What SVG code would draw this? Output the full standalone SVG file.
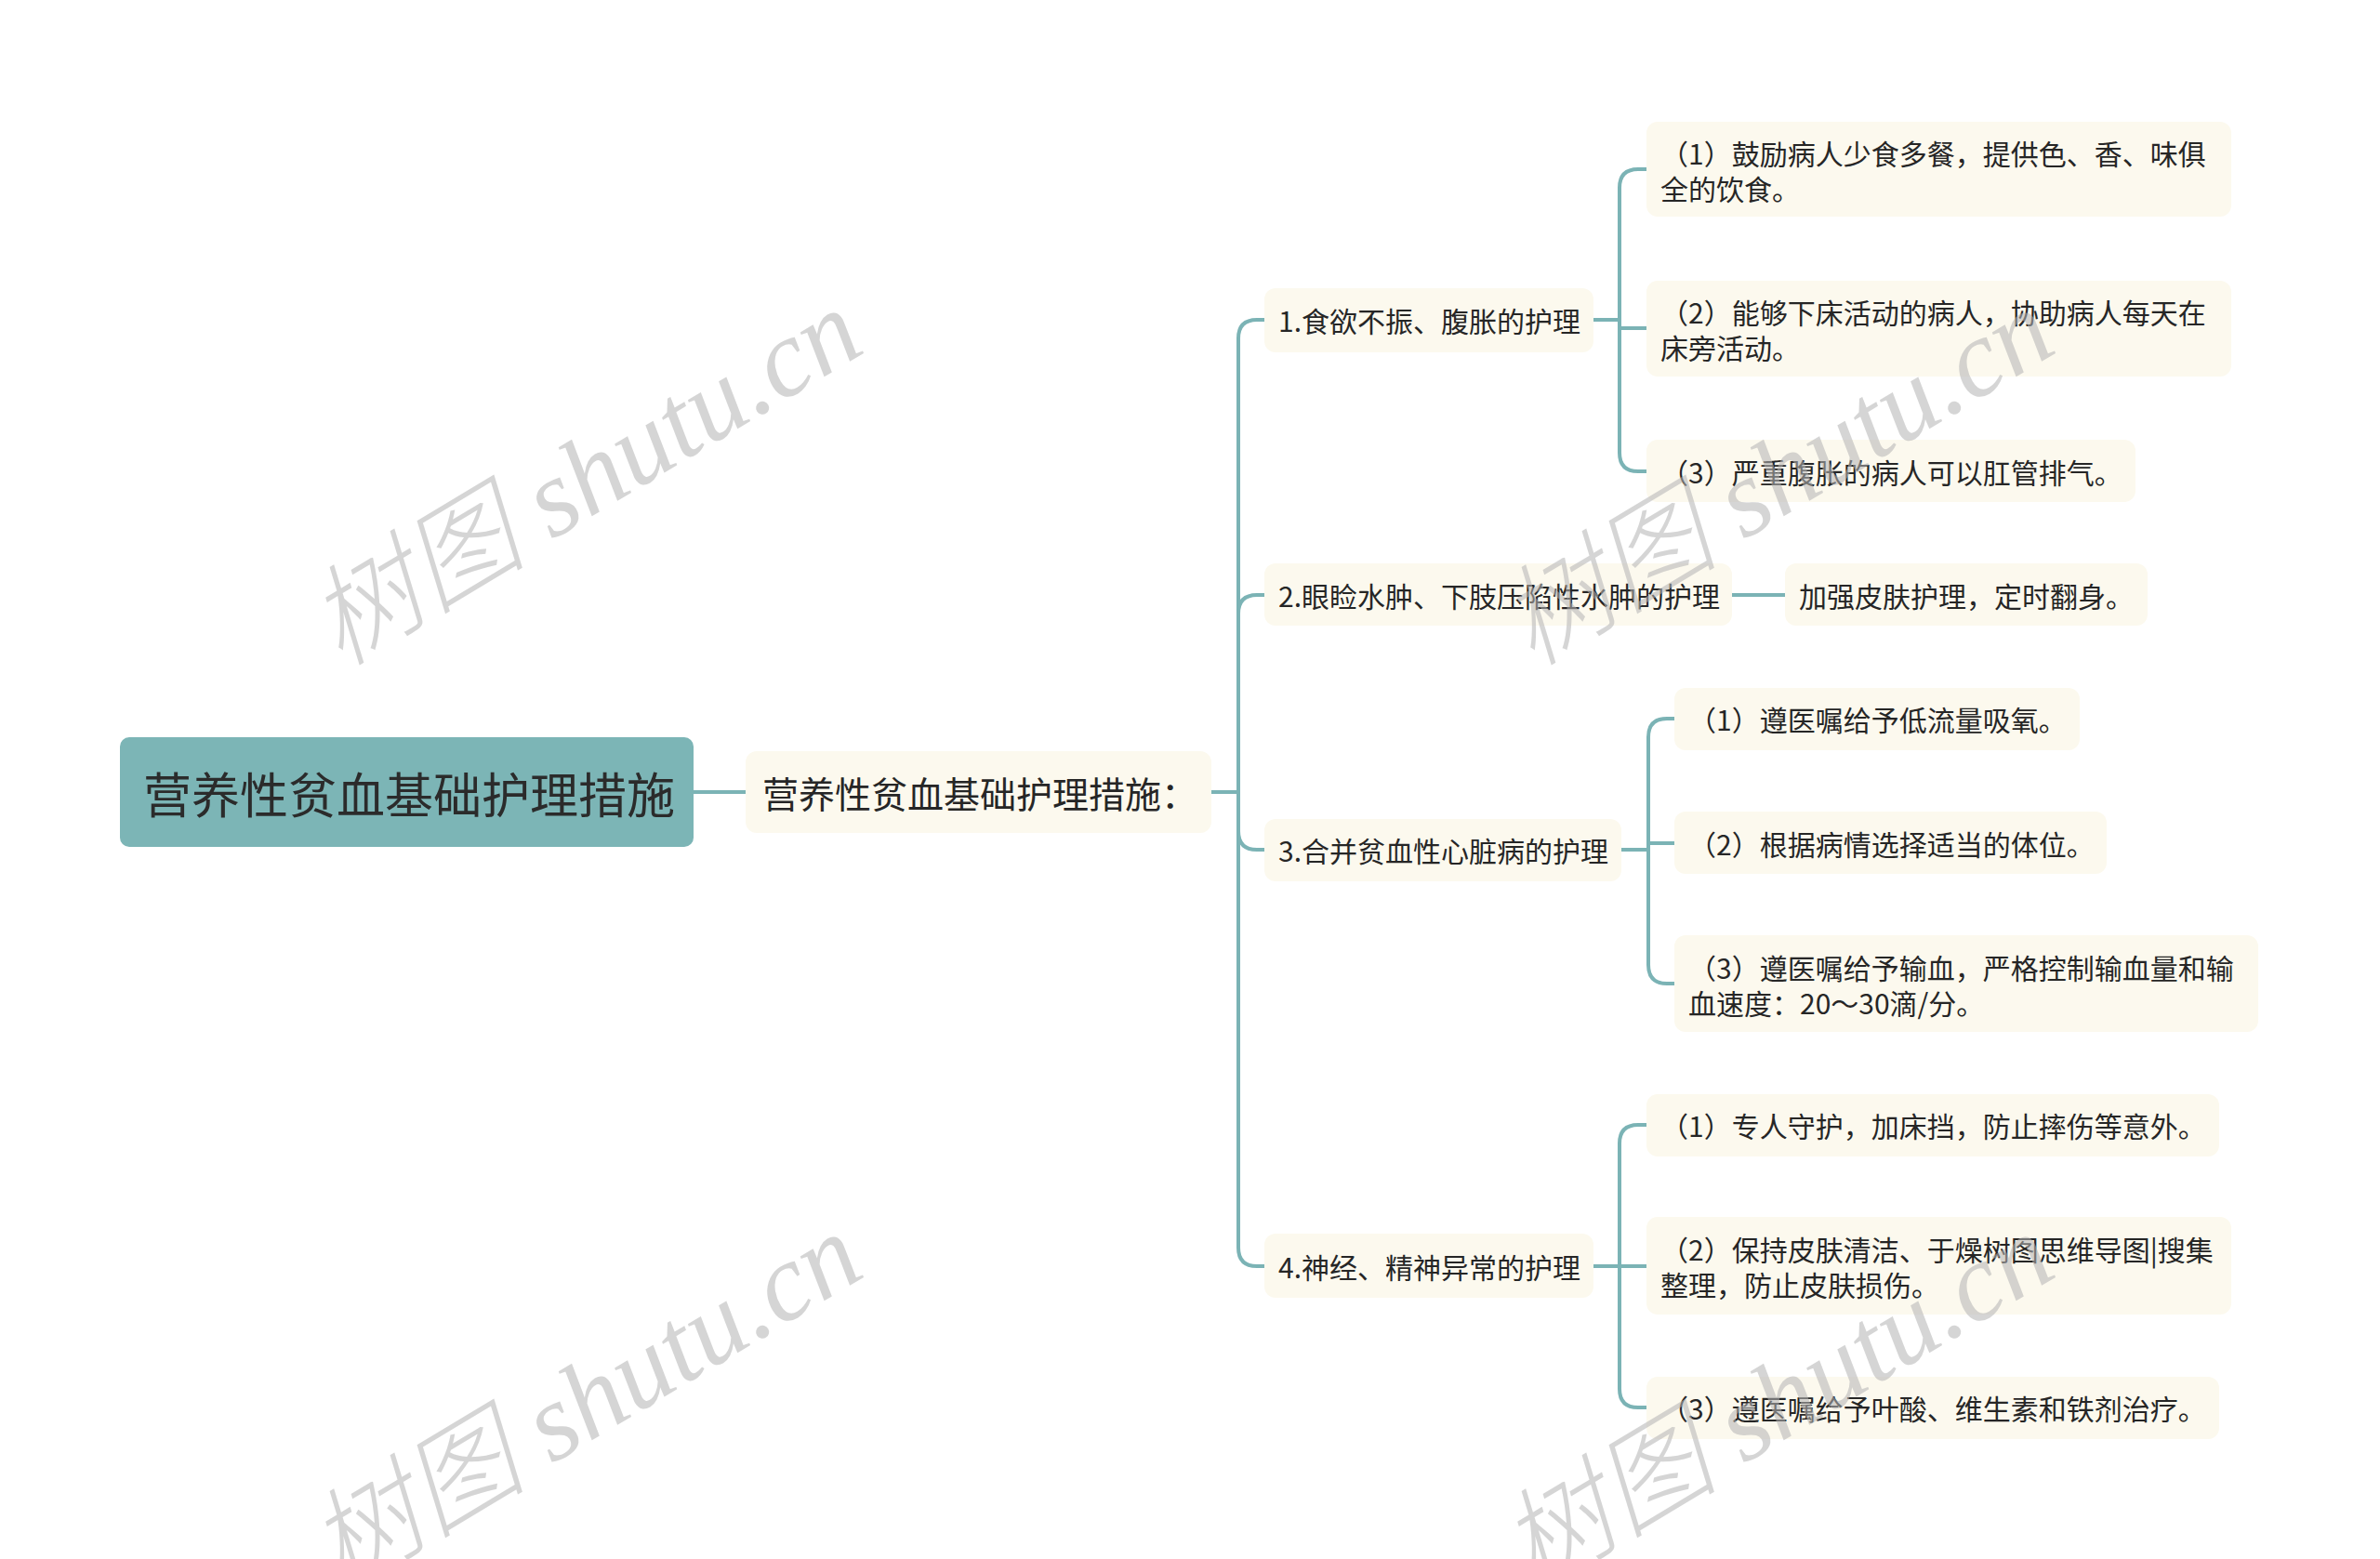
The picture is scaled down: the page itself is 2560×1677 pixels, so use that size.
<svg xmlns="http://www.w3.org/2000/svg" width="2560" height="1677" viewBox="0 0 2560 1677">
<style>
.t{font-family:"Noto Sans CJK SC","Noto Sans",sans-serif;fill:#262626;dominant-baseline:central}
.root rect{fill:#7cb5b6}
.root text{font-size:52px;fill:#2b2b2b}
.sub rect,.n rect{fill:#fcf9ee}
.sub text{font-size:39px}
.n text{font-size:30px}
.c path{fill:none;stroke:#7bb3b5;stroke-width:4}
.wm{font-family:"Liberation Serif","Noto Sans CJK SC",serif;font-style:italic;font-size:118px;font-weight:300;fill:#b4b4b4;opacity:0.55}
</style>
<rect width="2560" height="1677" fill="#ffffff"/>
<g class="c" id="connectors">
<path d="M746 852H802"/>
<path d="M1303 852H1332V364Q1332 344 1352 344H1360"/>
<path d="M1303 852H1332V660Q1332 640 1352 640H1360"/>
<path d="M1303 852H1332V894Q1332 914 1352 914H1360"/>
<path d="M1303 852H1332V1342Q1332 1362 1352 1362H1360"/>
<path d="M1714 344H1742V202Q1742 182 1762 182H1771"/>
<path d="M1714 344H1742V353H1771"/>
<path d="M1714 344H1742V487Q1742 507 1762 507H1771"/>
<path d="M1863 640H1920"/>
<path d="M1744 914H1773V793Q1773 773 1793 773H1801"/>
<path d="M1744 914H1773V907H1801"/>
<path d="M1744 914H1773V1038Q1773 1058 1793 1058H1801"/>
<path d="M1714 1362H1742V1230Q1742 1210 1762 1210H1771"/>
<path d="M1714 1362H1771"/>
<path d="M1714 1362H1742V1494Q1742 1514 1762 1514H1771"/>
</g>
<g class="root" id="root"><rect x="129" y="793" width="617" height="118" rx="10"/><text class="t" x="154" y="852">营养性贫血基础护理措施</text></g>
<g class="sub" id="main"><rect x="802" y="808" width="501" height="88" rx="12"/><text class="t" x="820" y="852">营养性贫血基础护理措施：</text></g>
<g class="n" id="b1"><rect x="1360" y="310" width="354" height="69" rx="12"/><text class="t" x="1375" y="344">1.食欲不振、腹胀的护理</text></g>
<g class="n" id="b2"><rect x="1360" y="606" width="503" height="67" rx="12"/><text class="t" x="1375" y="640">2.眼睑水肿、下肢压陷性水肿的护理</text></g>
<g class="n" id="b3"><rect x="1360" y="881" width="384" height="67" rx="12"/><text class="t" x="1375" y="914">3.合并贫血性心脏病的护理</text></g>
<g class="n" id="b4"><rect x="1360" y="1327" width="354" height="69" rx="12"/><text class="t" x="1375" y="1362">4.神经、精神异常的护理</text></g>
<g class="n" id="l11"><rect x="1771" y="131" width="629" height="102" rx="12"/><text class="t" x="1786" y="164">（1）鼓励病人少食多餐，提供色、香、味俱</text><text class="t" x="1786" y="202">全的饮食。</text></g>
<g class="n" id="l12"><rect x="1771" y="302" width="629" height="103" rx="12"/><text class="t" x="1786" y="335">（2）能够下床活动的病人，协助病人每天在</text><text class="t" x="1786" y="373">床旁活动。</text></g>
<g class="n" id="l13"><rect x="1771" y="473" width="526" height="67" rx="12"/><text class="t" x="1786" y="507">（3）严重腹胀的病人可以肛管排气。</text></g>
<g class="n" id="l21"><rect x="1920" y="606" width="390" height="67" rx="12"/><text class="t" x="1935" y="640">加强皮肤护理，定时翻身。</text></g>
<g class="n" id="l31"><rect x="1801" y="740" width="436" height="67" rx="12"/><text class="t" x="1816" y="773">（1）遵医嘱给予低流量吸氧。</text></g>
<g class="n" id="l32"><rect x="1801" y="873" width="465" height="67" rx="12"/><text class="t" x="1816" y="907">（2）根据病情选择适当的体位。</text></g>
<g class="n" id="l33"><rect x="1801" y="1006" width="628" height="104" rx="12"/><text class="t" x="1816" y="1040">（3）遵医嘱给予输血，严格控制输血量和输</text><text class="t" x="1816" y="1078">血速度：20～30滴/分。</text></g>
<g class="n" id="l41"><rect x="1771" y="1177" width="616" height="67" rx="12"/><text class="t" x="1786" y="1210">（1）专人守护，加床挡，防止摔伤等意外。</text></g>
<g class="n" id="l42"><rect x="1771" y="1309" width="629" height="105" rx="12"/><text class="t" x="1786" y="1343">（2）保持皮肤清洁、于燥树图思维导图|搜集</text><text class="t" x="1786" y="1381">整理，防止皮肤损伤。</text></g>
<g class="n" id="l43"><rect x="1771" y="1481" width="616" height="67" rx="12"/><text class="t" x="1786" y="1514">（3）遵医嘱给予叶酸、维生素和铁剂治疗。</text></g>
<g id="watermarks">
<text class="wm" transform="translate(366 718) rotate(-31)">树图 shutu.cn</text>
<text class="wm" transform="translate(1648 718) rotate(-31)">树图 shutu.cn</text>
<text class="wm" transform="translate(366 1712) rotate(-31)">树图 shutu.cn</text>
<text class="wm" transform="translate(1648 1712) rotate(-31)">树图 shutu.cn</text>
</g>
</svg>
